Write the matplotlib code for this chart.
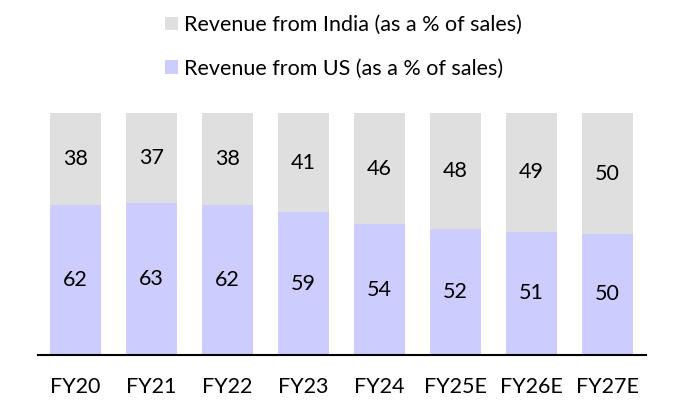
import numpy as np
import matplotlib
matplotlib.use("Agg")
import matplotlib.pyplot as plt
from matplotlib.patches import Patch

plt.rcParams["font.family"] = ["Lato", "DejaVu Sans"]

years = ["FY20", "FY21", "FY22", "FY23", "FY24", "FY25E", "FY26E", "FY27E"]
us_share = [62, 63, 62, 59, 54, 52, 51, 50]
india_share = [38, 37, 38, 41, 46, 48, 49, 50]

us_color = "#CCCCFF"
india_color = "#DFDFDF"
fs = 15.5

fig = plt.figure(figsize=(6.77, 4.0), dpi=100)
ax = fig.add_axes([0.0554, 0.1125, 0.8981, 0.605])

x = np.arange(len(years))
bar_width = 0.67

ax.bar(x, us_share, bar_width, color=us_color)
ax.bar(x, india_share, bar_width, bottom=us_share, color=india_color)

for i in range(len(years)):
    ax.text(x[i], us_share[i] / 2, str(us_share[i]), ha="center", va="center",
            fontsize=fs, color="black")
    ax.text(x[i], us_share[i] + india_share[i] / 2, str(india_share[i]),
            ha="center", va="center", fontsize=fs, color="black")

ax.set_xlim(-0.5, len(years) - 0.5)
ax.set_ylim(0, 100)
ax.set_xticks(x)
ax.set_xticklabels(years, fontsize=fs)
ax.tick_params(axis="x", length=0, pad=16)
ax.set_yticks([])
for side in ["top", "left", "right"]:
    ax.spines[side].set_visible(False)
ax.spines["bottom"].set_linewidth(1.5)
ax.spines["bottom"].set_color("black")

handles = [
    Patch(facecolor=india_color, label="Revenue from India (as a % of sales)"),
    Patch(facecolor=us_color, label="Revenue from US (as a % of sales)"),
]
fig.legend(handles=handles, loc="upper left", bbox_to_anchor=(0.221, 1.0),
           frameon=False, fontsize=fs, handlelength=0.6, handleheight=0.6,
           handletextpad=0.3, labelspacing=1.1, borderaxespad=0.3)

fig.savefig("out.png", dpi=100)
